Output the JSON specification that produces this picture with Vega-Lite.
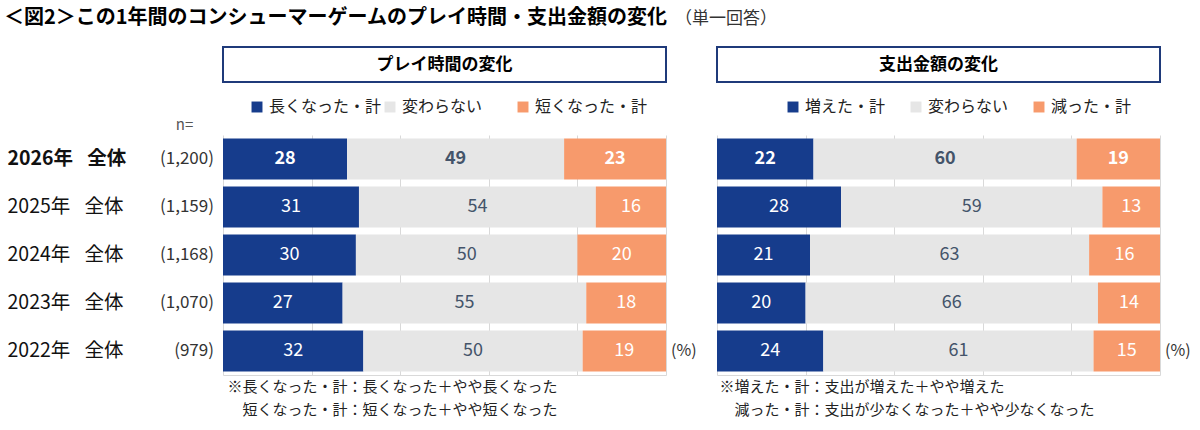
{
  "$schema": "https://vega.github.io/schema/vega-lite/v6.json",
  "padding": {"left": 4, "top": 8, "right": 4, "bottom": 4},
  "config": {"font": "Noto Sans CJK JP", "view": {"stroke": null}},
  "datasets": {
    "play": [
      {"year": "2026", "cat": "長くなった・計", "ord": 1, "value": 28},
      {"year": "2026", "cat": "変わらない", "ord": 2, "value": 49},
      {"year": "2026", "cat": "短くなった・計", "ord": 3, "value": 23},
      {"year": "2025", "cat": "長くなった・計", "ord": 1, "value": 31},
      {"year": "2025", "cat": "変わらない", "ord": 2, "value": 54},
      {"year": "2025", "cat": "短くなった・計", "ord": 3, "value": 16},
      {"year": "2024", "cat": "長くなった・計", "ord": 1, "value": 30},
      {"year": "2024", "cat": "変わらない", "ord": 2, "value": 50},
      {"year": "2024", "cat": "短くなった・計", "ord": 3, "value": 20},
      {"year": "2023", "cat": "長くなった・計", "ord": 1, "value": 27},
      {"year": "2023", "cat": "変わらない", "ord": 2, "value": 55},
      {"year": "2023", "cat": "短くなった・計", "ord": 3, "value": 18},
      {"year": "2022", "cat": "長くなった・計", "ord": 1, "value": 32},
      {"year": "2022", "cat": "変わらない", "ord": 2, "value": 50},
      {"year": "2022", "cat": "短くなった・計", "ord": 3, "value": 19}
    ],
    "spend": [
      {"year": "2026", "cat": "増えた・計", "ord": 1, "value": 22},
      {"year": "2026", "cat": "変わらない", "ord": 2, "value": 60},
      {"year": "2026", "cat": "減った・計", "ord": 3, "value": 19},
      {"year": "2025", "cat": "増えた・計", "ord": 1, "value": 28},
      {"year": "2025", "cat": "変わらない", "ord": 2, "value": 59},
      {"year": "2025", "cat": "減った・計", "ord": 3, "value": 13},
      {"year": "2024", "cat": "増えた・計", "ord": 1, "value": 21},
      {"year": "2024", "cat": "変わらない", "ord": 2, "value": 63},
      {"year": "2024", "cat": "減った・計", "ord": 3, "value": 16},
      {"year": "2023", "cat": "増えた・計", "ord": 1, "value": 20},
      {"year": "2023", "cat": "変わらない", "ord": 2, "value": 66},
      {"year": "2023", "cat": "減った・計", "ord": 3, "value": 14},
      {"year": "2022", "cat": "増えた・計", "ord": 1, "value": 24},
      {"year": "2022", "cat": "変わらない", "ord": 2, "value": 61},
      {"year": "2022", "cat": "減った・計", "ord": 3, "value": 15}
    ],
    "ns": [
      {"year": "2026", "n": "(1,200)"},
      {"year": "2025", "n": "(1,159)"},
      {"year": "2024", "n": "(1,168)"},
      {"year": "2023", "n": "(1,070)"},
      {"year": "2022", "n": "(979)"}
    ],
    "pct": [{"year": "2022", "t": "(%)"}]
  },
  "columns": 2,
  "spacing": {"row": 53, "column": 51},
  "bounds": "flush",
  "resolve": {"scale": {"color": "independent"}, "legend": {"color": "independent"}},
  "concat": [
    {
      "width": 443, "height": 35,
      "title": {"text": "＜図2＞この1年間のコンシューマーゲームのプレイ時間・支出金額の変化", "anchor": "start", "frame": "group", "dx": -219, "offset": 18, "fontSize": 20, "fontWeight": "bold", "color": "#000"},
      "data": {"values": [{"label": "プレイ時間の変化"}]},
      "layer": [
        {"mark": {"type": "rect", "fill": "white", "stroke": "#1F3A7A", "strokeWidth": 2}, "encoding": {}},
        {"mark": {"type": "text", "fontSize": 17, "fontWeight": "bold", "color": "#000"}, "encoding": {"text": {"field": "label"}}}
      ]
    },
    {
      "width": 443, "height": 35,
      "title": {"text": "（単一回答）", "anchor": "start", "frame": "group", "dx": -42, "offset": 18, "fontSize": 17, "fontWeight": "normal", "color": "#333"},
      "data": {"values": [{"label": "支出金額の変化"}]},
      "layer": [
        {"mark": {"type": "rect", "fill": "white", "stroke": "#1F3A7A", "strokeWidth": 2}, "encoding": {}},
        {"mark": {"type": "text", "fontSize": 17, "fontWeight": "bold", "color": "#000"}, "encoding": {"text": {"field": "label"}}}
      ]
    },
    {
      "width": 443, "height": 240,
      "encoding": {
        "y": {"field": "year", "type": "nominal", "sort": ["2026", "2025", "2024", "2023", "2022"],
          "scale": {"paddingInner": 0.15, "paddingOuter": 0.075},
          "axis": {"labelAlign": "left", "labelPadding": 216, "ticks": false, "domain": false, "labelFontSize": 19.5, "labelColor": "#111",
            "labelExpr": "datum.value + '年\u2002 全体'",
            "labelFontWeight": {"condition": {"test": "datum.value == '2026'", "value": "bold"}, "value": "normal"},
            "title": "n=", "titleAngle": 0, "titleX": -39, "titleY": -11, "titleAlign": "center", "titleBaseline": "middle", "titleFontSize": 15, "titleFontWeight": "normal", "titleColor": "#555"}
        }
      },
      "layer": [
        {
          "data": {"name": "play"},
          "transform": [
            {"stack": "value", "groupby": ["year"], "sort": [{"field": "ord", "order": "ascending"}], "offset": "normalize", "as": ["x0", "x1"]}
          ],
          "mark": {"type": "bar"},
          "encoding": {
            "x": {"field": "x0", "type": "quantitative", "scale": {"domain": [0, 1]},
              "axis": {"grid": true, "gridColor": "#D9D9D9", "values": [0, 0.2, 0.4, 0.6, 0.8, 1], "labels": false, "ticks": false, "domain": true, "domainColor": "#D9D9D9",
                "title": ["※長くなった・計：長くなった＋やや長くなった", "\u200b\u3000短くなった・計：短くなった＋やや短くなった"],
                "titleFontSize": 15, "titleFontWeight": "normal", "titleColor": "#222", "titleAnchor": "start", "titleAlign": "left", "titleX": 4, "titleY": 4, "titleBaseline": "top", "titleLineHeight": 23}},
            "x2": {"field": "x1"},
            "color": {"field": "cat", "type": "nominal",
              "scale": {"domain": ["長くなった・計", "変わらない", "短くなった・計"], "range": ["#163C8C", "#E6E6E6", "#F79A6C"]},
              "legend": {"orient": "none", "legendX": 26, "legendY": -36, "direction": "horizontal", "title": null, "symbolType": "square", "symbolSize": 120, "symbolStrokeWidth": 0, "labelFontSize": 16, "labelColor": "#222", "labelOffset": 4, "columnPadding": 0, "gridAlign": "all", "padding": 0}}
          }
        },
        {
          "data": {"name": "play"},
          "transform": [
            {"stack": "value", "groupby": ["year"], "sort": [{"field": "ord", "order": "ascending"}], "offset": "normalize", "as": ["x0", "x1"]},
            {"calculate": "(datum.x0 + datum.x1) / 2", "as": "mid"},
            {"filter": "datum.year == '2026'"}
          ],
          "mark": {"type": "text", "fontSize": 18, "fontWeight": "bold"},
          "encoding": {
            "x": {"field": "mid", "type": "quantitative"},
            "text": {"field": "value"},
            "color": {"condition": {"test": "datum.cat == '変わらない'", "value": "#44546A"}, "value": "white"}
          }
        },
        {
          "data": {"name": "play"},
          "transform": [
            {"stack": "value", "groupby": ["year"], "sort": [{"field": "ord", "order": "ascending"}], "offset": "normalize", "as": ["x0", "x1"]},
            {"calculate": "(datum.x0 + datum.x1) / 2", "as": "mid"},
            {"filter": "datum.year != '2026'"}
          ],
          "mark": {"type": "text", "fontSize": 18},
          "encoding": {
            "x": {"field": "mid", "type": "quantitative"},
            "text": {"field": "value"},
            "color": {"condition": {"test": "datum.cat == '変わらない'", "value": "#44546A"}, "value": "white"}
          }
        },
        {
          "data": {"name": "ns"},
          "mark": {"type": "text", "align": "right", "dx": -9, "fontSize": 17, "color": "#333"},
          "encoding": {"x": {"datum": 0, "type": "quantitative"}, "text": {"field": "n"}}
        },
        {
          "data": {"name": "pct"},
          "mark": {"type": "text", "align": "left", "dx": 5, "fontSize": 16, "color": "#333"},
          "encoding": {"x": {"datum": 1, "type": "quantitative"}, "text": {"field": "t"}}
        }
      ]
    },
    {
      "width": 443, "height": 240,
      "encoding": {
        "y": {"field": "year", "type": "nominal", "sort": ["2026", "2025", "2024", "2023", "2022"],
          "scale": {"paddingInner": 0.15, "paddingOuter": 0.075}, "axis": null}
      },
      "layer": [
        {
          "data": {"name": "spend"},
          "transform": [
            {"stack": "value", "groupby": ["year"], "sort": [{"field": "ord", "order": "ascending"}], "offset": "normalize", "as": ["x0", "x1"]}
          ],
          "mark": {"type": "bar"},
          "encoding": {
            "x": {"field": "x0", "type": "quantitative", "scale": {"domain": [0, 1]},
              "axis": {"grid": true, "gridColor": "#D9D9D9", "values": [0, 0.2, 0.4, 0.6, 0.8, 1], "labels": false, "ticks": false, "domain": true, "domainColor": "#D9D9D9",
                "title": ["※増えた・計：支出が増えた＋やや増えた", "\u200b\u3000減った・計：支出が少なくなった＋やや少なくなった"],
                "titleFontSize": 15, "titleFontWeight": "normal", "titleColor": "#222", "titleAnchor": "start", "titleAlign": "left", "titleX": 2, "titleY": 4, "titleBaseline": "top", "titleLineHeight": 23}},
            "x2": {"field": "x1"},
            "color": {"field": "cat", "type": "nominal",
              "scale": {"domain": ["増えた・計", "変わらない", "減った・計"], "range": ["#163C8C", "#E6E6E6", "#F79A6C"]},
              "legend": {"orient": "none", "legendX": 68, "legendY": -36, "direction": "horizontal", "title": null, "symbolType": "square", "symbolSize": 120, "symbolStrokeWidth": 0, "labelFontSize": 16, "labelColor": "#222", "labelOffset": 4, "columnPadding": 22, "gridAlign": "all", "padding": 0}}
          }
        },
        {
          "data": {"name": "spend"},
          "transform": [
            {"stack": "value", "groupby": ["year"], "sort": [{"field": "ord", "order": "ascending"}], "offset": "normalize", "as": ["x0", "x1"]},
            {"calculate": "(datum.x0 + datum.x1) / 2", "as": "mid"},
            {"filter": "datum.year == '2026'"}
          ],
          "mark": {"type": "text", "fontSize": 18, "fontWeight": "bold"},
          "encoding": {
            "x": {"field": "mid", "type": "quantitative"},
            "text": {"field": "value"},
            "color": {"condition": {"test": "datum.cat == '変わらない'", "value": "#44546A"}, "value": "white"}
          }
        },
        {
          "data": {"name": "spend"},
          "transform": [
            {"stack": "value", "groupby": ["year"], "sort": [{"field": "ord", "order": "ascending"}], "offset": "normalize", "as": ["x0", "x1"]},
            {"calculate": "(datum.x0 + datum.x1) / 2", "as": "mid"},
            {"filter": "datum.year != '2026'"}
          ],
          "mark": {"type": "text", "fontSize": 18},
          "encoding": {
            "x": {"field": "mid", "type": "quantitative"},
            "text": {"field": "value"},
            "color": {"condition": {"test": "datum.cat == '変わらない'", "value": "#44546A"}, "value": "white"}
          }
        },
        {
          "data": {"name": "pct"},
          "mark": {"type": "text", "align": "left", "dx": 5, "fontSize": 16, "color": "#333"},
          "encoding": {"x": {"datum": 1, "type": "quantitative"}, "text": {"field": "t"}}
        }
      ]
    }
  ]
}
